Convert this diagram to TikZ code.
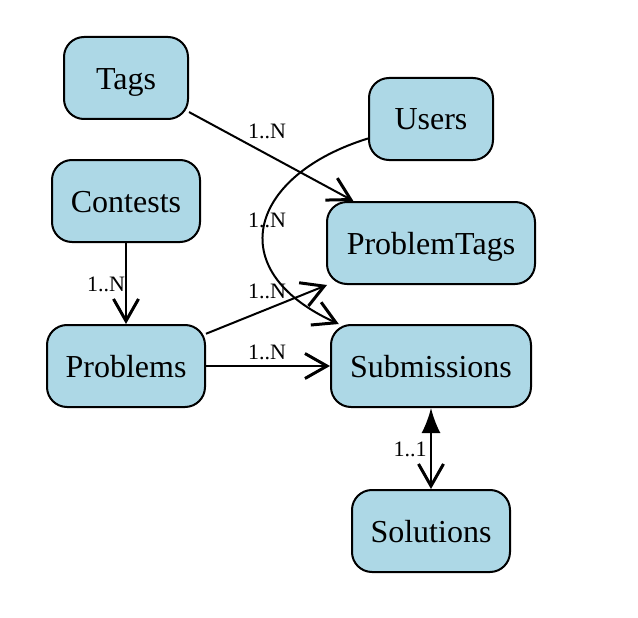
\documentclass[tikz,border=0pt]{standalone}
\usepackage{fontspec}
\setmainfont{Liberation Serif}
\usetikzlibrary{arrows.meta}

\tikzset{
  table/.style={draw, line width=2pt, rectangle, rounded corners=20pt, fill=lightblue,
    font=\fontsize{32}{34}\selectfont, inner sep=0pt, text height=27pt, text depth=5pt},
  card/.style={font=\fontsize{22}{24}\selectfont, inner sep=0pt},
  vee/.tip={Straight Barb[length=22pt, width=25pt, line width=3pt]},
  rel/.style={line width=2pt, -vee},
}
\definecolor{lightblue}{RGB}{173,216,230}

\begin{document}
\begin{tikzpicture}[x=1pt, y=-1pt]
				\useasboundingbox (0,0) rectangle (638,618);
				\node[table, minimum width=124pt, minimum height=82pt] (Tags)at(126, 78) {Tags};
				\node[table, minimum width=124pt, minimum height=82pt] (Users)at(431, 119) {Users};
				\node[table, minimum width=148pt, minimum height=82pt] (Contests)at(126, 201) {Contests};
				\node[table, minimum width=208pt, minimum height=82pt] (ProblemTags)at(431, 243) {ProblemTags};
				\node[table, minimum width=158pt, minimum height=82pt] (Problems)at(126, 366) {Problems};
				\node[table, minimum width=200pt, minimum height=82pt] (Submissions)at(431, 366) {Submissions};
				\node[table, minimum width=158pt, minimum height=82pt] (Solutions)at(431, 531) {Solutions};
				\node[card] (cTP)at(267, 131) {1..N};
				\node[card] (cUS)at(267, 220) {1..N};
				\node[card] (cPT)at(267, 291) {1..N};
				\node[card] (cPS)at(267, 352) {1..N};
				\node[card] (cCP)at(106, 284) {1..N};
				\node[card] (cSS)at(410, 449) {1..1};
				\draw[rel] (Tags) -- (ProblemTags);
				\draw[rel] (Users) .. controls (250, 175) and (220, 270) .. (Submissions);
				\draw[rel] (Problems) -- (ProblemTags);
				\draw[rel] (Problems) -- (Submissions);
				\draw[rel] (Contests) -- (Problems);
				\draw[rel, {Latex[length=25pt, width=19pt]}-vee] (Submissions) -- (Solutions);
			\end{tikzpicture}
\end{document}
